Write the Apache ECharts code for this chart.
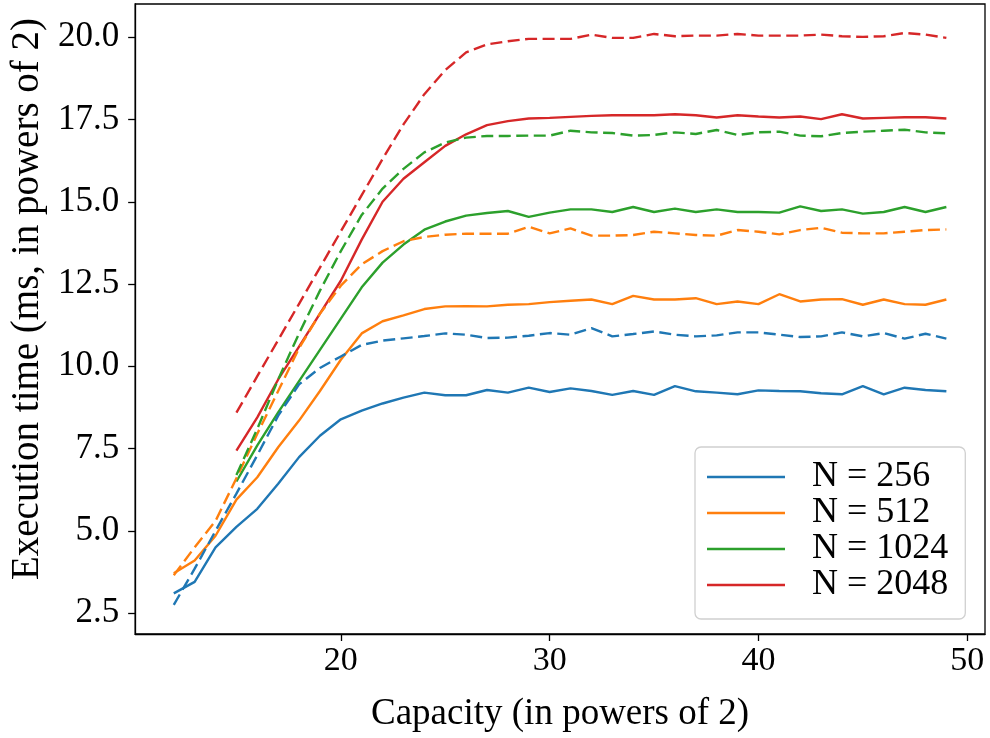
<!DOCTYPE html>
<html>
<head>
<meta charset="utf-8">
<script src="https://cdn.jsdelivr.net/npm/echarts@6/dist/echarts.min.js"></script>
<style>
html,body{margin:0;padding:0;background:#fff;}
#chart{width:990px;height:738px;}
</style>
</head>
<body>
<div id="chart"></div>
<script>
// Capacity (x) values
const xLong = [12,13,14,15,16,17,18,19,20,21,22,23,24,25,26,27,28,29,30,31,32,33,34,35,36,37,38,39,40,41,42,43,44,45,46,47,48,49];
const xShort = [15,16,17,18,19,20,21,22,23,24,25,26,27,28,29,30,31,32,33,34,35,36,37,38,39,40,41,42,43,44,45,46,47,48,49];

const legendNames = ['N = 256', 'N = 512', 'N = 1024', 'N = 2048'];
const xTickValues = [20, 30, 40, 50];
const yTickValues = [2.5, 5.0, 7.5, 10.0, 12.5, 15.0, 17.5, 20.0];

// solid series
const n256Solid = [3.1,3.45,4.5,5.12,5.67,6.43,7.24,7.89,8.39,8.65,8.87,9.05,9.2,9.12,9.12,9.28,9.2,9.35,9.22,9.33,9.25,9.13,9.25,9.13,9.4,9.24,9.2,9.15,9.27,9.25,9.24,9.18,9.15,9.4,9.15,9.35,9.28,9.24];
const n512Solid = [3.71,4.1,4.85,5.95,6.63,7.54,8.35,9.25,10.2,11.0,11.37,11.55,11.74,11.82,11.83,11.82,11.87,11.89,11.95,11.99,12.03,11.89,12.14,12.03,12.03,12.07,11.89,11.97,11.89,12.19,11.97,12.03,12.04,11.87,12.03,11.89,11.87,12.03];
const n1024Solid = [6.5,7.6,8.6,9.55,10.5,11.45,12.4,13.15,13.7,14.15,14.4,14.58,14.66,14.72,14.54,14.67,14.77,14.77,14.69,14.84,14.69,14.79,14.69,14.77,14.69,14.69,14.67,14.86,14.72,14.77,14.64,14.69,14.84,14.69,14.84];
const n2048Solid = [7.44,8.45,9.6,10.6,11.6,12.6,13.85,15.0,15.7,16.2,16.7,17.05,17.33,17.45,17.53,17.55,17.58,17.61,17.63,17.63,17.63,17.66,17.63,17.56,17.63,17.59,17.56,17.59,17.51,17.66,17.53,17.55,17.57,17.57,17.53];

// dashed series
const n256Dashed = [2.75,3.85,5.0,6.13,7.3,8.5,9.45,9.95,10.3,10.65,10.78,10.85,10.92,11.0,10.96,10.86,10.87,10.93,11.01,10.96,11.16,10.91,10.98,11.06,10.96,10.91,10.94,11.03,11.03,10.96,10.89,10.91,11.03,10.91,11.01,10.84,10.99,10.84];
const n512Dashed = [3.65,4.5,5.3,6.6,7.95,9.25,10.55,11.6,12.45,13.1,13.5,13.8,13.93,14.0,14.03,14.03,14.03,14.24,14.04,14.19,13.97,13.97,13.99,14.09,14.04,13.99,13.97,14.14,14.09,14.01,14.14,14.21,14.06,14.04,14.04,14.09,14.14,14.16];
const n1024Dashed = [6.7,8.1,9.6,11.0,12.3,13.5,14.6,15.4,16.0,16.5,16.8,16.95,17.0,17.0,17.01,17.01,17.16,17.11,17.09,17.01,17.03,17.11,17.06,17.18,17.03,17.11,17.13,17.01,16.99,17.09,17.13,17.16,17.19,17.11,17.08];
const n2048Dashed = [8.59,9.7,10.8,11.9,13.0,14.1,15.2,16.3,17.35,18.27,19.0,19.54,19.78,19.88,19.95,19.95,19.95,20.08,19.98,19.98,20.1,20.03,20.05,20.05,20.1,20.05,20.05,20.05,20.08,20.03,20.01,20.03,20.13,20.08,19.98];

const colors = ['#1f77b4', '#ff7f0e', '#2ca02c', '#d62728'];
const FONT = '"Liberation Serif", "Times New Roman", serif';

function pairs(xs, ys) { return xs.map((x, i) => [x, ys[i]]); }

const solidSets = [[xLong, n256Solid], [xLong, n512Solid], [xShort, n1024Solid], [xShort, n2048Solid]];
const dashedSets = [[xLong, n256Dashed], [xLong, n512Dashed], [xShort, n1024Dashed], [xShort, n2048Dashed]];

const series = [];
solidSets.forEach((s, i) => {
  series.push({
    name: legendNames[i], type: 'line', data: pairs(s[0], s[1]),
    symbol: 'none', silent: true, animation: false,
    lineStyle: { color: colors[i], width: 2.4, type: 'solid' },
    itemStyle: { color: colors[i] }
  });
});
dashedSets.forEach((s, i) => {
  series.push({
    name: legendNames[i], type: 'line', data: pairs(s[0], s[1]),
    symbol: 'none', silent: true, animation: false,
    lineStyle: { color: colors[i], width: 2.4, type: [12, 5.5] },
    itemStyle: { color: colors[i] }
  });
});

const chart = echarts.init(document.getElementById('chart'), null, { renderer: 'canvas' });
chart.setOption({
  backgroundColor: '#fff',
  animation: false,
  color: colors,
  grid: { left: 135, right: 5, top: 4, bottom: 100, show: true, borderColor: '#000', borderWidth: 1.3, containLabel: false },
  xAxis: {
    type: 'value', min: 10.15, max: 50.85,
    name: 'Capacity (in powers of 2)', nameLocation: 'middle', nameGap: 62,
    nameTextStyle: { fontFamily: FONT, fontSize: 37, color: '#000' },
    axisLine: { show: true, onZero: false, lineStyle: { color: '#000', width: 1.3 } },
    axisTick: { show: true, inside: false, length: 7, customValues: xTickValues, lineStyle: { color: '#000', width: 1.3 } },
    axisLabel: { customValues: xTickValues, margin: 10, fontFamily: FONT, fontSize: 34, color: '#000' },
    splitLine: { show: false }
  },
  yAxis: {
    type: 'value', min: 1.865, max: 21.01,
    name: 'Execution time (ms, in powers of 2)', nameLocation: 'middle', nameGap: 88,
    nameTextStyle: { fontFamily: FONT, fontSize: 39, color: '#000', padding: [0, 0, 0, 40] },
    axisLine: { show: true, onZero: false, lineStyle: { color: '#000', width: 1.3 } },
    axisTick: { show: true, inside: false, length: 7, customValues: yTickValues, lineStyle: { color: '#000', width: 1.3 } },
    axisLabel: { customValues: yTickValues, margin: 16, fontFamily: FONT, fontSize: 35, color: '#000', formatter: v => v.toFixed(1) },
    splitLine: { show: false }
  },
  legend: {
    data: legendNames, orient: 'vertical', left: 695, top: 447,
    padding: [12, 17, 16, 12], itemGap: 0, itemWidth: 78, itemHeight: 2.6, icon: 'rect',
    backgroundColor: 'rgba(255,255,255,0.8)', borderColor: '#d0d0d0', borderWidth: 1.3, borderRadius: 6,
    textStyle: { fontFamily: FONT, fontSize: 36, color: '#000', lineHeight: 36, padding: [0, 0, 0, 22] },
    selectedMode: false
  },
  series: series
});
</script>
</body>
</html>
